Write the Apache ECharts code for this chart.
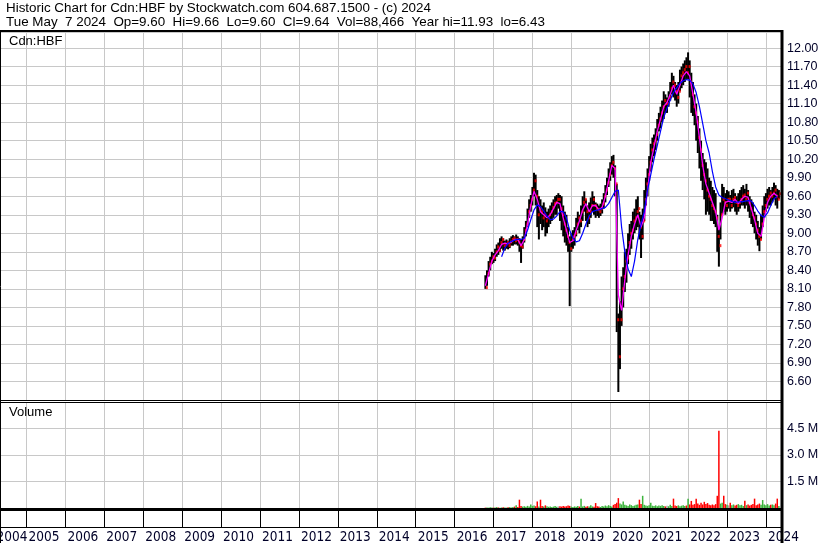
<!DOCTYPE html>
<html>
<head>
<meta charset="utf-8">
<script src="https://cdn.jsdelivr.net/npm/echarts@6/dist/echarts.min.js"></script>
<style>
  html, body { margin: 0; padding: 0; background: #fff; }
  #chart { width: 830px; height: 543px; }
</style>
</head>
<body>
<div id="chart"></div>
<script>
// half-monthly bars, Cdn:HBF, from mid Oct 2016 to early May 2024
const firstBar = 2016.79;
const barStep = 1 / 24;

const highs = [
  8.32, 8.40, 8.55, 8.62, 8.70, 8.68, 8.75, 8.82, 8.85, 8.92,
  8.95, 8.92, 8.88, 8.90, 8.88, 8.92, 8.95, 8.97, 8.95, 8.98,
  8.95, 8.92, 8.90, 8.95, 9.10, 9.20, 9.40, 9.55, 9.62, 9.75,
  9.98, 9.95, 9.70, 9.60, 9.55, 9.45, 9.50, 9.42, 9.35, 9.40,
  9.45, 9.50, 9.55, 9.60, 9.62, 9.65, 9.62, 9.60, 9.45, 9.35,
  9.30, 9.10, 8.95, 9.00, 9.05, 9.10, 9.25, 9.35, 9.30, 9.45,
  9.60, 9.68, 9.55, 9.45, 9.50, 9.58, 9.68, 9.60, 9.50, 9.48,
  9.45, 9.48, 9.55, 9.65, 9.78, 9.90, 10.05, 10.15, 10.25, 10.27,
  10.10, 9.80, 7.70, 7.90, 8.30, 8.45, 8.70, 8.75, 9.00, 9.15,
  9.20, 9.35, 9.40, 9.55, 9.60, 9.35, 9.30, 9.40, 9.70, 9.90,
  10.05, 10.25, 10.45, 10.55, 10.60, 10.70, 10.85, 10.95, 11.05, 11.15,
  11.30, 11.25, 11.20, 11.30, 11.45, 11.60, 11.55, 11.45, 11.40, 11.45,
  11.65, 11.70, 11.75, 11.80, 11.85, 11.93, 11.80, 11.60, 11.45, 11.25,
  11.10, 10.90, 10.70, 10.50, 10.30, 10.20, 10.15, 10.05, 9.90, 9.85,
  9.75, 9.70, 9.65, 9.30, 9.10, 9.50, 9.80, 9.75, 9.65, 9.70,
  9.68, 9.62, 9.70, 9.72, 9.65, 9.60, 9.65, 9.70, 9.75, 9.78,
  9.72, 9.80, 9.70, 9.60, 9.55, 9.50, 9.35, 9.30, 9.20, 9.10,
  9.30, 9.45, 9.60, 9.65, 9.72, 9.75, 9.70, 9.75, 9.82, 9.78,
  9.72, 9.70
];
const lows = [
  8.10, 8.15, 8.30, 8.40, 8.50, 8.52, 8.55, 8.62, 8.65, 8.70,
  8.75, 8.72, 8.72, 8.75, 8.74, 8.76, 8.80, 8.80, 8.82, 8.82,
  8.80, 8.70, 8.52, 8.75, 8.85, 8.95, 9.10, 9.25, 9.35, 9.45,
  9.60, 9.45, 9.10, 8.90, 9.15, 9.05, 9.10, 8.95, 9.00, 9.10,
  9.15, 9.20, 9.25, 9.30, 9.30, 9.40, 9.20, 9.05, 8.95, 8.85,
  8.80, 8.70, 7.82, 8.70, 8.75, 8.80, 8.95, 9.05, 9.00, 9.10,
  9.20, 9.35, 9.20, 9.10, 9.15, 9.25, 9.35, 9.30, 9.25, 9.28,
  9.25, 9.28, 9.32, 9.40, 9.50, 9.62, 9.75, 9.85, 9.95, 9.90,
  9.60, 7.40, 6.43, 6.80, 7.50, 7.80, 8.05, 8.20, 8.50, 8.65,
  8.75, 8.90, 9.00, 9.05, 9.10, 8.90, 8.60, 8.90, 9.20, 9.45,
  9.60, 9.85, 10.00, 10.15, 10.25, 10.35, 10.50, 10.65, 10.70, 10.80,
  10.85, 10.95, 10.95, 11.05, 11.15, 11.25, 11.20, 11.15, 11.05, 11.10,
  11.30, 11.35, 11.40, 11.45, 11.50, 11.50, 11.20, 10.95, 10.90, 10.75,
  10.50, 10.30, 10.05, 9.85, 9.70, 9.55, 9.30, 9.35, 9.30, 9.20,
  9.20, 9.15, 9.10, 8.70, 8.46, 8.90, 9.30, 9.35, 9.30, 9.35,
  9.40, 9.35, 9.40, 9.42, 9.35, 9.30, 9.35, 9.40, 9.45, 9.45,
  9.40, 9.45, 9.35, 9.25, 9.15, 9.10, 9.00, 8.90, 8.80, 8.71,
  8.90, 9.10, 9.25, 9.35, 9.40, 9.45, 9.45, 9.50, 9.55, 9.45,
  9.40, 9.55
];
const closes = [
  8.12, 8.35, 8.50, 8.55, 8.62, 8.60, 8.70, 8.78, 8.72, 8.85,
  8.90, 8.80, 8.82, 8.85, 8.80, 8.86, 8.90, 8.92, 8.88, 8.90,
  8.86, 8.80, 8.78, 8.90, 9.05, 9.15, 9.35, 9.45, 9.55, 9.70,
  9.85, 9.60, 9.30, 9.40, 9.35, 9.25, 9.30, 9.20, 9.25, 9.30,
  9.35, 9.42, 9.48, 9.50, 9.55, 9.55, 9.40, 9.30, 9.15, 9.05,
  8.95, 8.85, 8.75, 8.90, 8.95, 9.00, 9.15, 9.25, 9.20, 9.35,
  9.50, 9.55, 9.35, 9.25, 9.35, 9.45, 9.55, 9.45, 9.40, 9.38,
  9.35, 9.40, 9.48, 9.60, 9.70, 9.82, 9.95, 10.10, 10.15, 10.05,
  9.80, 7.60, 7.00, 7.60, 8.10, 8.30, 8.55, 8.60, 8.85, 9.00,
  9.05, 9.20, 9.25, 9.35, 9.40, 9.10, 8.95, 9.20, 9.55, 9.80,
  9.95, 10.15, 10.35, 10.45, 10.50, 10.60, 10.75, 10.85, 10.95, 11.05,
  11.15, 11.10, 11.10, 11.20, 11.35, 11.45, 11.40, 11.30, 11.20, 11.30,
  11.55, 11.60, 11.65, 11.70, 11.60, 11.70, 11.45, 11.25, 11.05, 10.95,
  10.80, 10.55, 10.35, 10.10, 9.95, 9.85, 9.70, 9.60, 9.55, 9.45,
  9.40, 9.35, 9.25, 8.95, 8.80, 9.30, 9.55, 9.50, 9.45, 9.55,
  9.55, 9.45, 9.55, 9.58, 9.50, 9.45, 9.50, 9.55, 9.60, 9.62,
  9.55, 9.65, 9.50, 9.40, 9.30, 9.25, 9.15, 9.05, 8.95, 8.90,
  9.15, 9.35, 9.45, 9.55, 9.60, 9.65, 9.60, 9.65, 9.70, 9.60,
  9.55, 9.64
];
// volume in millions of shares
const volumes = [
  0.02, 0.03, 0.02, 0.04, 0.03, 0.02, 0.03, 0.05, 0.03, 0.02,
  0.03, 0.04, 0.03, 0.02, 0.04, 0.05, 0.03, 0.06, 0.08, 0.15,
  0.06, 0.47, 0.12, 0.08, 0.10, 0.07, 0.12, 0.09, 0.20, 0.11,
  0.14, 0.10, 0.37, 0.09, 0.47, 0.12, 0.08, 0.15, 0.10, 0.07,
  0.09, 0.06, 0.08, 0.11, 0.07, 0.09, 0.10, 0.08, 0.12, 0.09,
  0.10, 0.14, 0.12, 0.08, 0.06, 0.09, 0.07, 0.11, 0.08, 0.53,
  0.09, 0.12, 0.07, 0.10, 0.08, 0.15, 0.09, 0.07, 0.28, 0.10,
  0.08, 0.06, 0.12, 0.09, 0.14, 0.10, 0.16, 0.12, 0.09, 0.18,
  0.22, 0.30, 0.56, 0.25, 0.20, 0.37, 0.18, 0.15, 0.12, 0.20,
  0.16, 0.12, 0.14, 0.18, 0.20, 0.47, 0.22, 0.69, 0.18, 0.14,
  0.12, 0.16, 0.30, 0.13, 0.11, 0.15, 0.10, 0.14, 0.12, 0.16,
  0.11, 0.09, 0.13, 0.10, 0.18, 0.12, 0.53, 0.14, 0.11, 0.15,
  0.10, 0.13, 0.16, 0.12, 0.14, 0.53, 0.20, 0.40, 0.18, 0.22,
  0.53, 0.25, 0.18, 0.30, 0.20, 0.35, 0.22, 0.28, 0.18, 0.15,
  0.20, 0.16, 0.22, 0.69, 4.37, 0.25, 0.30, 0.69, 0.22, 0.18,
  0.15, 0.30, 0.16, 0.20, 0.14, 0.18, 0.22, 0.15, 0.18, 0.12,
  0.41, 0.16, 0.20, 0.14, 0.18, 0.22, 0.53, 0.16, 0.20, 0.25,
  0.18, 0.45, 0.20, 0.16, 0.22, 0.14, 0.18, 0.20, 0.16, 0.25,
  0.53, 0.12
];
// moving averages, one point per month (every second bar)
const maShort = [
  8.15, 8.35, 8.55, 8.65, 8.72, 8.82, 8.84, 8.83, 8.86, 8.90,
  8.90, 8.80, 8.90, 9.15, 9.45, 9.68, 9.55, 9.35, 9.30, 9.25,
  9.30, 9.40, 9.50, 9.48, 9.25, 9.05, 8.85, 8.88, 9.05, 9.20,
  9.38, 9.48, 9.35, 9.45, 9.45, 9.38, 9.42, 9.60, 9.85, 10.10,
  10.05, 8.00, 7.75, 8.25, 8.65, 8.95, 9.15, 9.30, 9.10, 9.25,
  9.70, 10.15, 10.40, 10.65, 10.85, 11.05, 11.12, 11.25, 11.40, 11.25,
  11.40, 11.55, 11.62, 11.55, 11.25, 10.95, 10.55, 10.10, 9.80, 9.65,
  9.50, 9.35, 9.05, 9.25, 9.50, 9.52, 9.50, 9.55, 9.48, 9.55,
  9.60, 9.58, 9.40, 9.22, 9.00, 8.95, 9.25, 9.50, 9.60, 9.65,
  9.60
];
const maLong = [
  null, null, null, null, null, 8.62, 8.76, 8.84, 8.87, 8.89,
  8.90, 8.90, 8.92, 9.05, 9.22, 9.38, 9.46, 9.43, 9.36, 9.28,
  9.22, 9.23, 9.28, 9.35, 9.35, 9.25, 9.05, 8.92, 8.86, 8.88,
  9.00, 9.15, 9.28, 9.35, 9.37, 9.38, 9.40, 9.42, 9.48, 9.58,
  9.68, 9.70, 9.10, 8.70, 8.42, 8.30, 8.55, 8.90, 9.15, 9.35,
  9.70, 9.95, 10.20, 10.42, 10.65, 10.88, 11.02, 11.16, 11.28, 11.36,
  11.43, 11.47, 11.49, 11.48, 11.42, 11.28, 11.05, 10.78, 10.50, 10.30,
  10.00, 9.75, 9.62, 9.58, 9.56, 9.54, 9.52, 9.50, 9.51, 9.51,
  9.52, 9.53, 9.52, 9.45, 9.36, 9.29, 9.26, 9.33, 9.45, 9.56,
  9.60
];

const headerLine1 = 'Historic Chart for Cdn:HBF by Stockwatch.com 604.687.1500 - (c) 2024';
const headerLine2 = 'Tue May  7 2024  Op=9.60  Hi=9.66  Lo=9.60  Cl=9.64  Vol=88,466  Year hi=11.93  lo=6.43';

const barYears = highs.map((_, i) => firstBar + i * barStep);
const maYears = maShort.map((_, i) => firstBar + i * 2 * barStep);

const sans = '"Liberation Sans", Arial, sans-serif';
const narrow = '"Liberation Sans Narrow", "Arial Narrow", "DejaVu Sans Condensed", sans-serif';
const gridGray = '#c8c8c8';
const labelColor = '#000028';

const gridLeft = -12.4;
const gridWidth = 793.4;

const chart = echarts.init(document.getElementById('chart'));

const yearAxis = (gridIndex, extra) => Object.assign({
  gridIndex: gridIndex,
  type: 'value',
  min: 2004,
  max: 2024.386,
  interval: 1,
  axisLine: { show: false },
  axisTick: { show: false },
  axisLabel: { show: false },
  splitLine: { show: true, lineStyle: { color: gridGray, width: 1 } }
}, extra);

const line = (x1, y1, x2, y2, w) => ({
  type: 'line',
  silent: true,
  z: 100,
  shape: { x1: x1, y1: y1, x2: x2, y2: y2 },
  style: { stroke: '#000', lineWidth: w }
});
const text = (str, x, y, font) => ({
  type: 'text',
  silent: true,
  z: 100,
  style: { text: str, x: x, y: y, font: font, fill: '#000', verticalAlign: 'top' }
});

const option = {
  animation: false,
  backgroundColor: '#fff',
  grid: [
    { left: gridLeft, width: gridWidth, top: 32, height: 368, outerBoundsMode: 'none', containLabel: false },
    { left: gridLeft, width: gridWidth, top: 402, height: 106, outerBoundsMode: 'none', containLabel: false },
    { left: gridLeft, width: gridWidth, top: 510, height: 17, outerBoundsMode: 'none', containLabel: false }
  ],
  xAxis: [
    yearAxis(0),
    yearAxis(1),
    yearAxis(2, {
      splitLine: { show: true, lineStyle: { color: '#000', width: 1 } },
      axisLabel: {
        show: true,
        showMaxLabel: false,
        align: 'left',
        margin: 3,
        formatter: v => (v === 2004 ? '{first|' + v + '}' : '{y|' + v + '}'),
        rich: {
          first: { fontFamily: narrow, fontSize: 13.5, color: labelColor, padding: [0, 0, 0, 9] },
          y: { fontFamily: narrow, fontSize: 13.5, color: labelColor, padding: [0, 0, 0, 2] }
        }
      }
    })
  ],
  yAxis: [
    {
      gridIndex: 0,
      type: 'value',
      position: 'right',
      min: 6.3,
      max: 12.26,
      interval: 0.3,
      axisLine: { show: false },
      axisTick: { show: false },
      axisLabel: {
        showMinLabel: false,
        showMaxLabel: false,
        margin: 6,
        fontFamily: sans,
        fontSize: 12.5,
        color: labelColor,
        formatter: v => v.toFixed(2)
      },
      splitLine: { lineStyle: { color: gridGray, width: 1 } }
    },
    {
      gridIndex: 1,
      type: 'value',
      position: 'right',
      min: 0,
      max: 6,
      interval: 1.5,
      axisLine: { show: false },
      axisTick: { show: false },
      axisLabel: {
        showMinLabel: false,
        showMaxLabel: false,
        margin: 6,
        fontFamily: sans,
        fontSize: 12.5,
        color: labelColor,
        formatter: v => v.toFixed(1) + ' M'
      },
      splitLine: { lineStyle: { color: gridGray, width: 1 } }
    },
    { gridIndex: 2, type: 'value', show: false }
  ],
  series: [
    {
      name: 'range',
      type: 'custom',
      xAxisIndex: 0,
      yAxisIndex: 0,
      clip: true,
      encode: { x: 0, y: [1, 2] },
      data: barYears.map((x, i) => [x, lows[i], highs[i]]),
      renderItem: (params, api) => {
        const lo = api.coord([api.value(0), api.value(1)]);
        const hi = api.coord([api.value(0), api.value(2)]);
        return {
          type: 'rect',
          shape: { x: lo[0] - 1, y: hi[1], width: 2, height: Math.max(1, lo[1] - hi[1]) },
          style: { fill: '#000' }
        };
      }
    },
    {
      name: 'close',
      type: 'scatter',
      xAxisIndex: 0,
      yAxisIndex: 0,
      z: 3,
      symbol: 'rect',
      symbolSize: [2, 3],
      symbolOffset: [1.5, 0],
      itemStyle: { color: '#ff0000' },
      data: barYears.map((x, i) => [x, closes[i]])
    },
    {
      name: 'ma short',
      type: 'line',
      xAxisIndex: 0,
      yAxisIndex: 0,
      z: 4,
      showSymbol: false,
      lineStyle: { color: '#ff00ff', width: 1.3 },
      data: maYears.map((x, i) => [x, maShort[i]])
    },
    {
      name: 'ma long',
      type: 'line',
      xAxisIndex: 0,
      yAxisIndex: 0,
      z: 4,
      showSymbol: false,
      connectNulls: false,
      lineStyle: { color: '#0000ff', width: 1.2 },
      data: maYears.map((x, i) => [x, maLong[i]])
    },
    {
      name: 'volume',
      type: 'bar',
      xAxisIndex: 1,
      yAxisIndex: 1,
      barWidth: 1.5,
      data: barYears.map((x, i) => [x, volumes[i]]),
      itemStyle: {
        color: p => {
          const i = p.dataIndex;
          if (i === 0 || closes[i] < closes[i - 1]) return '#ff0000';
          if (closes[i] > closes[i - 1]) return '#3cb43c';
          return '#a8a8a8';
        }
      }
    }
  ],
  graphic: [
    text(headerLine1, 6, 2, '13.4px ' + sans),
    text(headerLine2, 6, 16, '13.4px ' + sans),
    text('Cdn:HBF', 9, 35, '13px ' + sans),
    text('Volume', 9, 406, '13px ' + sans),
    line(0, 31, 783, 31, 2),
    line(0, 400.5, 782, 400.5, 1),
    line(0, 402.5, 782, 402.5, 1),
    line(0, 509.5, 782, 509.5, 3),
    line(0, 527.5, 782, 527.5, 1),
    line(0.5, 30, 0.5, 543, 1),
    line(782, 30, 782, 543, 3)
  ]
};

chart.setOption(option);
</script>
</body>
</html>
